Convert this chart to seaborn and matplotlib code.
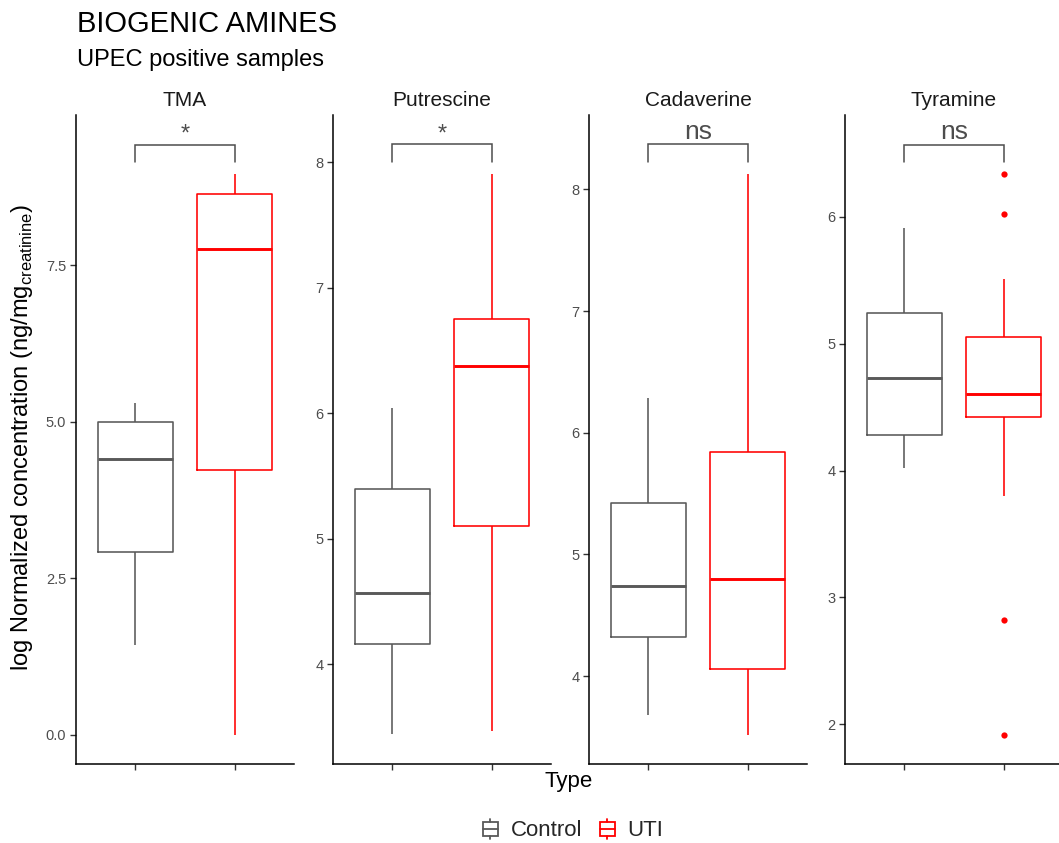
import matplotlib
matplotlib.use("Agg")
import matplotlib.pyplot as plt
from matplotlib.legend_handler import HandlerBase
from matplotlib.patches import Rectangle
from matplotlib.lines import Line2D
import numpy as np
import pandas as pd
import seaborn as sns

# ---- data -------------------------------------------------------------
amines = ["TMA", "Putrescine", "Cadaverine", "Tyramine"]
types = ["Control", "UTI"]

# per group: lower whisker, Q1, median, Q3, upper whisker
tma_control = [1.43, 2.91, 4.40, 4.99, 5.29]
tma_uti = [0.00, 4.22, 7.76, 8.64, 8.96]
put_control = [3.44, 4.16, 4.57, 5.40, 6.04]
put_uti = [3.47, 5.10, 6.38, 6.75, 7.91]
cad_control = [3.68, 4.32, 4.74, 5.42, 6.29]
cad_uti = [3.52, 4.06, 4.80, 5.84, 8.13]
tyr_control = [4.02, 4.28, 4.73, 5.24, 5.91]
tyr_uti = [3.80, 4.42, 4.60, 5.05, 5.51]

# points outside the whiskers
tyr_uti_outliers = [6.34, 6.02, 2.82, 1.92]

significance = ["*", "*", "ns", "ns"]

y_ticks = {
    "TMA": [0.0, 2.5, 5.0, 7.5],
    "Putrescine": [4, 5, 6, 7, 8],
    "Cadaverine": [4, 5, 6, 7, 8],
    "Tyramine": [2, 3, 4, 5, 6],
}
y_ticklabels = {
    "TMA": ["0.0", "2.5", "5.0", "7.5"],
    "Putrescine": ["4", "5", "6", "7", "8"],
    "Cadaverine": ["4", "5", "6", "7", "8"],
    "Tyramine": ["2", "3", "4", "5", "6"],
}

groups = {
    ("TMA", "Control"): tma_control, ("TMA", "UTI"): tma_uti,
    ("Putrescine", "Control"): put_control, ("Putrescine", "UTI"): put_uti,
    ("Cadaverine", "Control"): cad_control, ("Cadaverine", "UTI"): cad_uti,
    ("Tyramine", "Control"): tyr_control, ("Tyramine", "UTI"): tyr_uti,
}
rows = [(a, t, v) for (a, t), vals in groups.items() for v in vals]
df = pd.DataFrame(rows, columns=["amine", "Type", "value"])
out_df = pd.DataFrame({"amine": "Tyramine", "Type": "UTI", "value": tyr_uti_outliers})

# ---- style ------------------------------------------------------------
sns.set_theme(style="ticks")
plt.rcParams["font.family"] = ["Liberation Sans", "DejaVu Sans"]
plt.rcParams["axes.linewidth"] = 1.1

palette = {"Control": "#595959", "UTI": "#FF0000"}
text_gray = "#4D4D4D"

W, H = 1059, 843
fig = plt.figure(figsize=(W / 100, H / 100), dpi=100)
fig.patch.set_facecolor("white")

left_px = [76, 333, 589, 845]
panel_w = 218
top_px, bottom_px = 115, 764


class BoxKey(HandlerBase):
    """Legend key drawn as a small open boxplot glyph."""

    def create_artists(self, legend, orig_handle, xdescent, ydescent,
                       width, height, fontsize, trans):
        c = orig_handle.get_color()
        x0, y0 = -xdescent, -ydescent
        lw = 1.3
        b0, b1 = 0.14, 0.82
        rect = Rectangle((x0, y0 + b0 * height), width, (b1 - b0) * height,
                         fill=False, ec=c, lw=lw, transform=trans)
        mid = y0 + 0.5 * (b0 + b1) * height
        med = Line2D([x0, x0 + width], [mid, mid],
                     color=c, lw=lw, transform=trans)
        wl = Line2D([x0 + width / 2] * 2, [y0 - 0.02 * height, y0 + b0 * height],
                    color=c, lw=lw, transform=trans)
        wu = Line2D([x0 + width / 2] * 2, [y0 + b1 * height, y0 + 1.0 * height],
                    color=c, lw=lw, transform=trans)
        return [rect, med, wl, wu]


for i, amine in enumerate(amines):
    ax = fig.add_axes([left_px[i] / W, 1 - bottom_px / H,
                       panel_w / W, (bottom_px - top_px) / H])
    sub = df[df["amine"] == amine]
    sns.boxplot(data=sub, x="Type", y="value", hue="Type", order=types,
                hue_order=types, palette=palette, fill=False, saturation=1,
                width=0.75, whis=1.5, showfliers=False, showcaps=False,
                linewidth=1.15, medianprops={"linewidth": 2.1},
                legend=False, ax=ax)
    osub = out_df[out_df["amine"] == amine]
    if len(osub):
        sns.stripplot(data=osub, x="Type", y="value", order=types,
                      jitter=False, color=palette["UTI"], size=4.5,
                      linewidth=0, legend=False, ax=ax)

    # significance bracket placed above the data
    vals = np.concatenate([sub["value"].values, osub["value"].values])
    lo, hi = vals.min(), vals.max()
    rng = hi - lo
    bar_y = hi + 0.052 * rng
    leg_y = bar_y - 0.032 * rng
    ax.plot([0, 0, 1, 1], [leg_y, bar_y, bar_y, leg_y],
            color=text_gray, lw=1.1, solid_joinstyle="miter")
    label = significance[i]
    is_ns = label == "ns"
    ax.annotate(label, xy=(0.5, bar_y), xytext=(0, 4 if is_ns else 3),
                textcoords="offset points", ha="center", va="baseline",
                fontsize=19 if is_ns else 17, color=text_gray)

    span = bar_y - lo
    ax.set_ylim(lo - 0.05 * span, bar_y + 0.05 * span)
    ax.set_xlim(-0.6, 1.6)
    ax.set_yticks(y_ticks[amine])
    ax.set_yticklabels(y_ticklabels[amine])
    ax.set_xticks([0, 1])
    ax.set_xticklabels([])
    ax.set_xlabel("")
    ax.set_ylabel("")
    ax.tick_params(axis="both", length=4, width=1.0, color="#333333",
                   labelsize=10.5, labelcolor=text_gray, pad=3)
    for side in ("top", "right"):
        ax.spines[side].set_visible(False)
    for side in ("left", "bottom"):
        ax.spines[side].set_color("black")
        ax.spines[side].set_linewidth(1.1)
    ax.set_facecolor("white")

    fig.text((left_px[i] + panel_w / 2) / W, 1 - 100 / H, amine,
             ha="center", va="center", fontsize=15, color="#1A1A1A")

fig.text(77 / W, 1 - 24 / H, "BIOGENIC AMINES", ha="left", va="center",
         fontsize=21, color="black")
fig.text(77 / W, 1 - 60 / H, "UPEC positive samples", ha="left", va="center",
         fontsize=17, color="black")
fig.text(569 / W, 1 - 782 / H, "Type", ha="center", va="center",
         fontsize=16, color="black")
fig.text(22 / W, 1 - 437 / H,
         r"log Normalized concentration (ng/mg$_\mathregular{creatinine}$)",
         ha="center", va="center", rotation=90, fontsize=17, color="black")

handles = [Line2D([], [], color=palette[t]) for t in types]
fig.legend(handles=handles, labels=types, handler_map={Line2D: BoxKey()},
           loc="center", bbox_to_anchor=(573 / W, 1 - 830 / H), ncol=2,
           frameon=False, fontsize=16, handlelength=0.7, handleheight=1.0,
           handletextpad=0.55, columnspacing=0.8)

fig.savefig("out.png", dpi=100, facecolor="white")
